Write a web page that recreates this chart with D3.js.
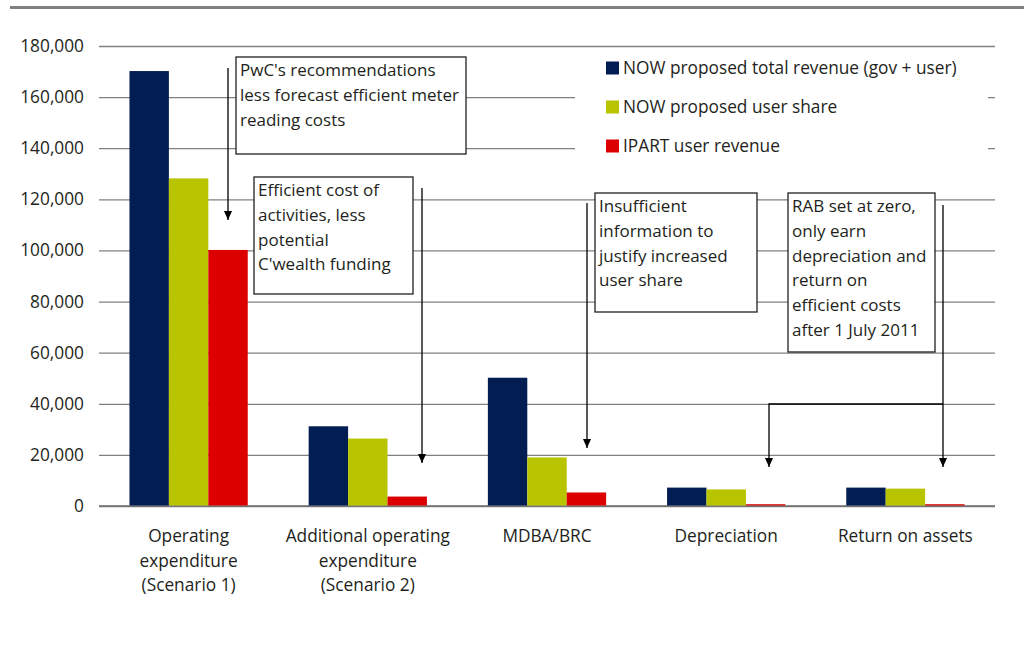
<!DOCTYPE html>
<html>
<head>
<meta charset="utf-8">
<script src="https://cdn.jsdelivr.net/npm/d3@7"></script>
<style>
  html, body { margin: 0; padding: 0; background: #ffffff; }
  svg { display: block; }
  text { font-family: "Open Sans", "Noto Sans", sans-serif; fill: #231f20; }
</style>
</head>
<body>
<svg id="chart" width="1024" height="663"></svg>
<script>
// Revenue by cost category ($)
const categories = [
  ["Operating", "expenditure", "(Scenario 1)"],
  ["Additional operating", "expenditure", "(Scenario 2)"],
  ["MDBA/BRC"],
  ["Depreciation"],
  ["Return on assets"]
];
const seriesNames = [
  "NOW proposed total revenue (gov + user)",
  "NOW proposed user share",
  "IPART user revenue"
];
const nowTotal = [170000, 31000, 50000, 7000, 7000];
const nowUser = [128000, 26200, 18800, 6300, 6600];
const ipartUser = [100000, 3500, 5100, 500, 500];
const yTicks = [0, 20000, 40000, 60000, 80000, 100000, 120000, 140000, 160000, 180000];

const seriesValues = [nowTotal, nowUser, ipartUser];
const colors = ["#021d52", "#b8c400", "#dd0000"];
const FS = 17.3;
const NOTE_FS = 17;

// Callout boxes with their text and leader arrows
const notes = [
  { box: [236, 57, 230, 97], lines: ["PwC's recommendations", "less forecast efficient meter", "reading costs"],
    arrows: [[[228, 68], [228, 220]]] },
  { box: [254, 177, 159, 117], lines: ["Efficient cost of", "activities, less", "potential", "C'wealth funding"],
    arrows: [[[422, 188], [422, 463]]] },
  { box: [595, 193, 162, 119], lines: ["Insufficient", "information to", "justify increased", "user share"],
    arrows: [[[587, 203], [587, 448]]] },
  { box: [788, 193, 147, 159], lines: ["RAB set at zero,", "only earn", "depreciation and", "return on", "efficient costs", "after 1 July 2011"],
    arrows: [[[943, 205], [943, 467]], [[943, 404], [769, 404], [769, 467]]] }
];

const svg = d3.select("#chart");
const W = 1024;
const plot = { left: 99, right: 995, top: 46, bottom: 506 };

// Top rule
svg.append("rect").attr("x", 10).attr("y", 6).attr("width", W - 10).attr("height", 3).attr("fill", "#808080");

const y = d3.scaleLinear().domain([0, 180000]).range([plot.bottom, plot.top]);
const x0 = d3.scaleBand().domain(d3.range(categories.length))
  .range([plot.left, plot.right]).paddingInner(0.34).paddingOuter(0.17);
const x1 = d3.scaleBand().domain(d3.range(seriesNames.length)).range([0, x0.bandwidth()]);

// Gridlines
const yAxis = d3.axisLeft(y).tickValues(yTicks).tickSize(-(plot.right - plot.left)).tickPadding(15)
  .tickFormat(d3.format(","));
const gy = svg.append("g").attr("transform", `translate(${plot.left},0)`).call(yAxis);
gy.select(".domain").remove();
gy.selectAll(".tick line").attr("stroke", "#808080").attr("stroke-width", 1.3);
gy.selectAll(".tick text").attr("font-size", FS).attr("fill", "#231f20")
  .style("font-family", '"Open Sans", "Noto Sans", sans-serif');

// Baseline
svg.append("line").attr("x1", plot.left).attr("x2", plot.right).attr("y1", y(0)).attr("y2", y(0))
  .attr("stroke", "#6f6f6f").attr("stroke-width", 1.5);

// Bars
const groups = svg.append("g").selectAll("g").data(categories).join("g")
  .attr("transform", (d, i) => `translate(${x0(i)},0)`);
groups.selectAll("rect").data((d, i) => seriesValues.map((s, k) => ({ k, v: s[i] }))).join("rect")
  .attr("x", d => x1(d.k))
  .attr("width", x1.bandwidth())
  .attr("y", d => y(d.v) - 0.5)
  .attr("height", d => y(0) - y(d.v))
  .attr("fill", d => colors[d.k]);

// Category labels
const xl = svg.append("g");
categories.forEach((lines, i) => {
  const cx = x0(i) + x0.bandwidth() / 2;
  const t = xl.append("text").attr("text-anchor", "middle").attr("font-size", FS)
    .attr("x", cx).attr("y", 542);
  lines.forEach((ln, j) => t.append("tspan").attr("x", cx).attr("dy", j === 0 ? 0 : 24.5).text(ln));
});

// Legend
const legend = svg.append("g");
legend.append("rect").attr("x", 575).attr("y", 49).attr("width", 413).attr("height", 140).attr("fill", "#ffffff");
seriesNames.forEach((name, k) => {
  const cy = 68 + k * 39;
  legend.append("rect").attr("x", 606).attr("y", cy - 6.5).attr("width", 13).attr("height", 13).attr("fill", colors[k]);
  legend.append("text").attr("x", 623).attr("y", cy).attr("dy", "0.36em").attr("font-size", FS).text(name);
});

// Callouts
const ann = svg.append("g");
const line = d3.line();
notes.forEach(n => {
  n.arrows.forEach(pts => {
    ann.append("path").attr("d", line(pts)).attr("fill", "none").attr("stroke", "#000").attr("stroke-width", 1.3);
    const b = pts[pts.length - 1];
    ann.append("path")
      .attr("d", `M${b[0] - 4},${b[1] - 9} L${b[0] + 4},${b[1] - 9} L${b[0]},${b[1]} Z`)
      .attr("fill", "#000");
  });
  const [bx, by, bw, bh] = n.box;
  ann.append("rect").attr("x", bx).attr("y", by).attr("width", bw).attr("height", bh)
    .attr("fill", "#ffffff").attr("stroke", "#231f20").attr("stroke-width", 1.3);
  n.lines.forEach((ln, j) => {
    ann.append("text").attr("x", bx + 4).attr("y", by + 13 + j * 24.7).attr("dy", "0.36em")
      .attr("font-size", NOTE_FS).text(ln);
  });
});
</script>
</body>
</html>
